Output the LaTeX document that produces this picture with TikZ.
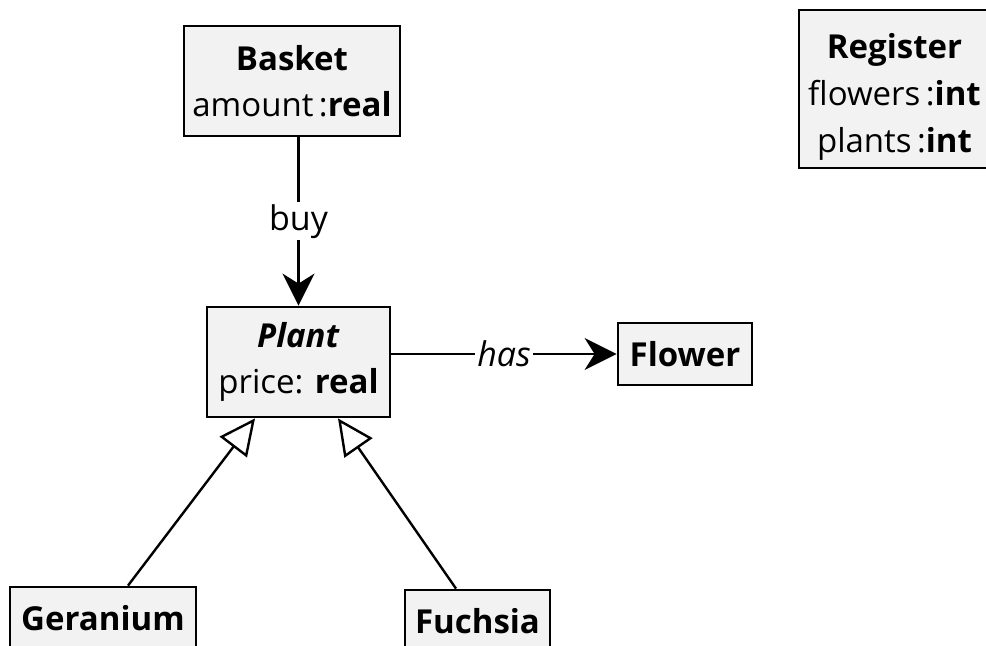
\documentclass[tikz,border=0pt]{standalone}
\usepackage{fontspec}
\setmainfont{Open Sans}
\usetikzlibrary{arrows.meta,positioning,calc}
\definecolor{boxfill}{RGB}{242, 242, 242}
\tikzset{
    umlclass/.style={rectangle, draw=black, fill=boxfill, line width=1.4pt, align=center, inner sep=2pt, font=\fontsize{16.5}{23}\selectfont},
    assoc/.style={line width=1.2pt, -{Stealth[length=16pt, width=16pt, inset=5pt]}},
    inherit/.style={line width=1.2pt, -{Triangle[open, length=18pt, width=17pt, fill=white]}},
    rolelabel/.style={fill=white, inner sep=1pt, font=\fontsize{17}{20}\selectfont}
}

\begin{document}
\begin{tikzpicture}[x=0.5pt, y=-0.5pt]
    \useasboundingbox (0,0) rectangle (986,646);
    \node (basket) [umlclass, minimum width=108pt, minimum height=55pt] at (292,81) {\textbf{Basket}\\amount\,:\textbf{real}};
    \node (register) [umlclass, minimum width=95.5pt, minimum height=79pt, font=\fontsize{16.5}{23.5}\selectfont] at (894.5,89) {\rule{0pt}{20pt}\textbf{Register}\\flowers\,:\textbf{int}\\plants\,:\textbf{int}};
    \node (plant) [umlclass, minimum width=91.5pt, minimum height=55pt] at (298.5,362) {\textbf{\textit{Plant}}\\price: \textbf{real}};
    \node (flower) [umlclass, minimum width=67pt, minimum height=31pt] at (685,354) {\textbf{Flower}};
    \node (geranium) [umlclass, minimum width=93pt, minimum height=31pt] at (103,618) {\textbf{Geranium}};
    \node (fuchsia) [umlclass, minimum width=72.5pt, minimum height=31pt] at (477.5,621) {\textbf{Fuchsia}};

    % associations
    \draw [assoc] (basket.south -| plant.north) -- node[rolelabel] {buy} (plant.north);
    \draw [assoc] (plant.east |- flower.west) -- node[rolelabel] {\textit{has}} (flower.west);

    % generalisation
    \draw [inherit] ($(geranium.north)+(25,0)$) -- ($(plant.south)+(-43.5,0)$);
    \draw [inherit] ($(fuchsia.north)+(-21.5,0)$) -- ($(plant.south)+(39.5,0)$);
\end{tikzpicture}
\end{document}
